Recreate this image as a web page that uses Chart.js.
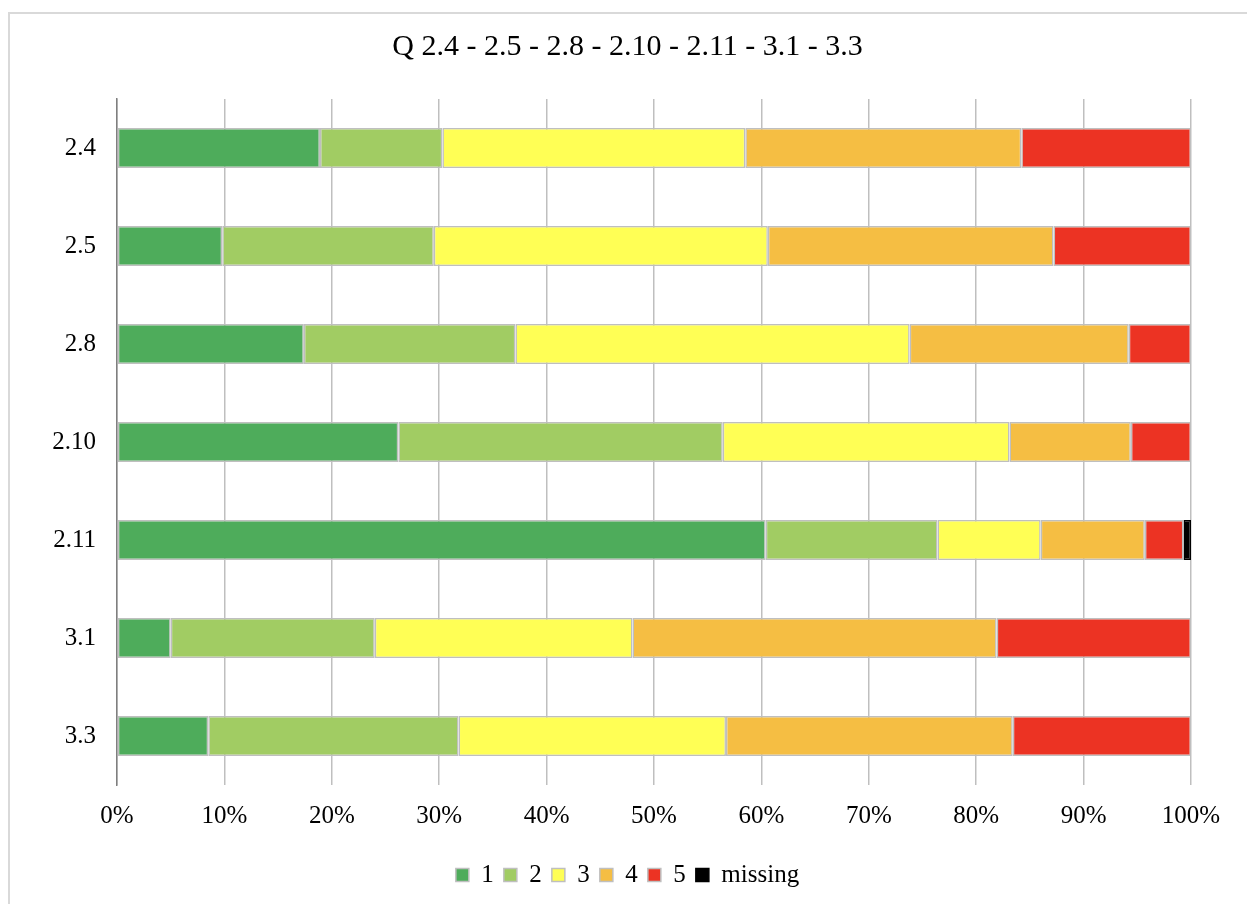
<!DOCTYPE html>
<html>
<head>
<meta charset="utf-8">
<script src="https://cdn.jsdelivr.net/npm/chart.js@4"></script>
<style>
  html, body { margin: 0; padding: 0; background: #ffffff; }
  #wrap { position: relative; width: 1247px; height: 904px; overflow: hidden; }
  #frame { position: absolute; left: 8px; top: 12px; width: 1300px; height: 1000px;
           border: 2px solid #d9d9d9; box-sizing: border-box; }
  #chart { position: absolute; left: 0; top: 0; }
</style>
</head>
<body>
<div id="wrap">
  <div id="frame"></div>
  <canvas id="chart" width="1247" height="904"></canvas>
</div>
<script>
// Questions shown as rows
const questions = ['2.4', '2.5', '2.8', '2.10', '2.11', '3.1', '3.3'];

// Share of answers (%) per score, one value per question
const score1 = [18.9, 9.8, 17.4, 26.2, 60.4, 5.0, 8.5];
const score2 = [11.4, 19.7, 19.7, 30.2, 16.0, 19.0, 23.3];
const score3 = [28.2, 31.1, 36.7, 26.7, 9.6, 24.0, 24.9];
const score4 = [25.7, 26.6, 20.4, 11.3, 9.7, 33.9, 26.7];
const score5 = [15.8, 12.8, 5.8, 5.6, 3.6, 18.1, 16.6];
const missing = [0, 0, 0, 0, 0.7, 0, 0];

// Axis ticks
const percentTicks = [0, 10, 20, 30, 40, 50, 60, 70, 80, 90, 100];

const serif = '"Liberation Serif", "Times New Roman", serif';

function series(label, data, color, border) {
  return {
    label: label,
    data: data,
    backgroundColor: color,
    borderColor: border,
    borderWidth: 1.5,
    borderSkipped: false,
    barPercentage: 0.41,
    categoryPercentage: 1.0
  };
}

new Chart(document.getElementById('chart'), {
  type: 'bar',
  data: {
    labels: questions,
    datasets: [
      series('1', score1, '#4eac5b', '#bfbfbf'),
      series('2', score2, '#a1cc63', '#bfbfbf'),
      series('3', score3, '#ffff55', '#bfbfbf'),
      series('4', score4, '#f5be43', '#bfbfbf'),
      series('5', score5, '#ec3323', '#bfbfbf'),
      series('missing', missing, '#000000', '#000000')
    ]
  },
  options: {
    indexAxis: 'y',
    responsive: false,
    animation: false,
    layout: { padding: { left: 8, right: 0, top: 12, bottom: 6.5 } },
    scales: {
      x: {
        stacked: true,
        min: 0,
        max: 100,
        afterBuildTicks: function (scale) {
          scale.ticks = percentTicks.map(v => ({ value: v }));
        },
        afterFit: function (scale) {
          scale.height = 67.5;
          scale.paddingRight = 56;
        },
        grid: { color: '#bfbfbf', lineWidth: 1.5, drawTicks: false },
        border: { display: false },
        ticks: {
          padding: 16,
          color: '#000000',
          font: { family: serif, size: 25 },
          callback: v => v + '%'
        }
      },
      y: {
        stacked: true,
        afterFit: function (scale) { scale.width = 109; },
        grid: { display: false, drawTicks: false },
        border: { display: true, color: '#7f7f7f', width: 1.5 },
        ticks: {
          padding: 21,
          color: '#000000',
          font: { family: serif, size: 25 }
        }
      }
    },
    plugins: {
      title: {
        display: true,
        text: 'Q 2.4 - 2.5 - 2.8 - 2.10 - 2.11 - 3.1 - 3.3',
        color: '#000000',
        font: { family: serif, size: 30, weight: 'normal' },
        padding: { top: 17, bottom: 34 }
      },
      legend: {
        position: 'bottom',
        labels: {
          color: '#000000',
          font: { family: serif, size: 25 },
          boxWidth: 13,
          boxHeight: 13,
          padding: 10
        }
      },
      tooltip: { enabled: false }
    }
  }
});
</script>
</body>
</html>
